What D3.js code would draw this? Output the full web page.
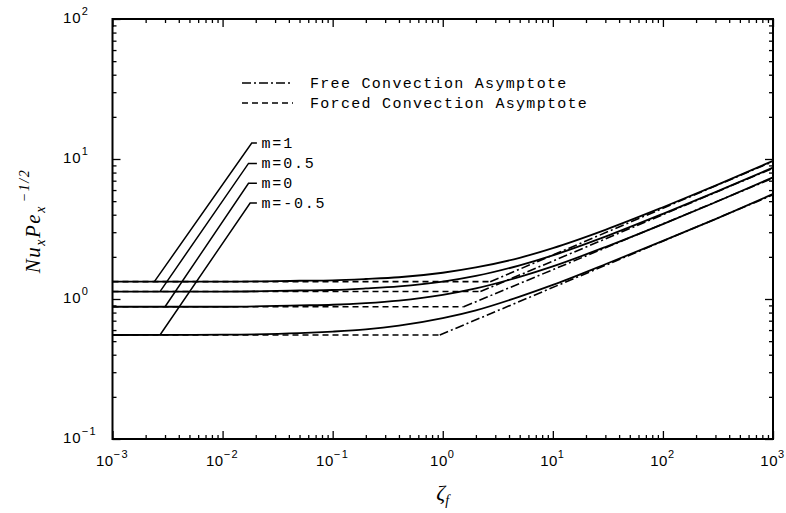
<!DOCTYPE html>
<html>
<head>
<meta charset="utf-8">
<script src="https://cdn.jsdelivr.net/npm/d3@7.9.0/dist/d3.min.js"></script>
<style>
  body { margin: 0; background: #fff; }
  svg { display: block; }
</style>
</head>
<body>
<svg id="chart" width="786" height="513"></svg>
<script>
const zetaGrid = [0.001, 0.01, 0.05, 0.1, 0.2, 0.4, 1, 2, 5, 10, 30, 100, 300, 1000];

// Nu_x Pe_x^-1/2, one array per m
const nuM1   = [1.33, 1.33, 1.35, 1.36, 1.39, 1.43, 1.54, 1.68, 1.97, 2.31, 3.12, 4.52, 6.45, 9.7];
const nuM05  = [1.13, 1.13, 1.15, 1.16, 1.19, 1.23, 1.33, 1.46, 1.74, 2.05, 2.79, 4.06, 5.8, 8.67];
const nuM0   = [0.88, 0.88, 0.90, 0.91, 0.935, 0.975, 1.07, 1.19, 1.44, 1.71, 2.35, 3.43, 4.91, 7.4];
const nuMm05 = [0.553, 0.556, 0.57, 0.585, 0.607, 0.645, 0.73, 0.83, 1.04, 1.26, 1.77, 2.6, 3.72, 5.62];

const mLabels = ["m=1", "m=0.5", "m=0", "m=-0.5"];

// forced asymptote level, where it meets the free one, free asymptote value at zeta=1000
const forcedLevel = [1.33, 1.13, 0.88, 0.553];
const forcedEnd = [2.7, 2.2, 1.55, 0.94];
const freeAt1000 = [9.6, 8.6, 7.3, 5.55];

// label leader lines (zeta, value)
const leaderStartZeta = [0.0024, 0.0027, 0.0030, 0.0027];
const leaderTopZeta = [0.0184, 0.0172, 0.0172, 0.0178];
const leaderTopValue = [13.0, 9.3, 6.7, 4.85];
const leaderTickZeta = 0.0205;
const labelZeta = 0.0226;

const majorX = [1e-3, 1e-2, 1e-1, 1e0, 1e1, 1e2, 1e3];
const majorY = [1e-1, 1e0, 1e1, 1e2];
const xExp = ["-3", "-2", "-1", "0", "1", "2", "3"];
const yExp = ["-1", "0", "1", "2"];

const margin = { left: 112.5, top: 19, right: 13, bottom: 74 };
const width = 786 - margin.left - margin.right;
const height = 513 - margin.top - margin.bottom;

const svg = d3.select("#chart");
const g = svg.append("g").attr("transform", `translate(${margin.left},${margin.top})`);

const x = d3.scaleLog().domain([1e-3, 1e3]).range([0, width]);
const y = d3.scaleLog().domain([1e-1, 1e2]).range([height, 0]);

// minor ticks 2..9 in every decade
const minorOf = dom => {
    const out = [];
    for (let e = Math.log10(dom[0]); e < Math.log10(dom[1]); e++)
        for (let k = 2; k <= 9; k++) out.push(k * Math.pow(10, e));
    return out;
};
const minorX = minorOf(x.domain());
const minorY = minorOf(y.domain());

function addAxis(axisFn, scale, values, size, transform) {
    const a = g.append("g")
        .attr("transform", transform)
        .call(axisFn(scale).tickValues(values).tickSize(-size).tickSizeOuter(0).tickFormat(() => ""));
    a.select(".domain").remove();
    a.selectAll("line").attr("stroke", "#000").attr("stroke-width", 1.3);
}
addAxis(d3.axisBottom, x, majorX, 8, `translate(0,${height})`);
addAxis(d3.axisBottom, x, minorX, 4, `translate(0,${height})`);
addAxis(d3.axisTop, x, majorX, 8, "translate(0,0)");
addAxis(d3.axisTop, x, minorX, 4, "translate(0,0)");
addAxis(d3.axisLeft, y, majorY, 8, "translate(0,0)");
addAxis(d3.axisLeft, y, minorY, 4, "translate(0,0)");
addAxis(d3.axisRight, y, majorY, 8, `translate(${width},0)`);
addAxis(d3.axisRight, y, minorY, 4, `translate(${width},0)`);

// tick labels with superscript exponents
const labelFont = "'Liberation Sans', Arial, sans-serif";
majorX.forEach((v, i) => {
    const t = g.append("text")
        .attr("x", x(v)).attr("y", height + 27)
        .attr("text-anchor", "middle")
        .attr("font-family", labelFont).attr("font-size", 15)
        .attr("letter-spacing", 0.5);
    t.append("tspan").text("10");
    t.append("tspan").attr("dy", -8).attr("font-size", 11).attr("letter-spacing", 1.5)
        .text(xExp[i].replace("-", "\u2212"));
});
majorY.forEach((v, i) => {
    const t = g.append("text")
        .attr("x", 63 - margin.left).attr("y", y(v) + 4)
        .attr("font-family", labelFont).attr("font-size", 15)
        .attr("letter-spacing", 1);
    t.append("tspan").text("10");
    t.append("tspan").attr("dy", -8).attr("font-size", 11).attr("letter-spacing", 1.5)
        .text(yExp[i].replace("-", "\u2212"));
});

// asymptotes
const line = d3.line().x(d => x(d[0])).y(d => y(d[1]));
forcedLevel.forEach((lv, i) => {
    g.append("path")
        .attr("d", line([[1e-3, lv], [forcedEnd[i], lv]]))
        .attr("fill", "none").attr("stroke", "#000").attr("stroke-width", 1.6)
        .attr("stroke-dasharray", "6,4");
    g.append("path")
        .attr("d", line([[forcedEnd[i], lv], [1e3, freeAt1000[i]]]))
        .attr("fill", "none").attr("stroke", "#000").attr("stroke-width", 1.6)
        .attr("stroke-dasharray", "9,3,2,3");
});

// solid curves
const curve = d3.line().x(d => x(d[0])).y(d => y(d[1])).curve(d3.curveMonotoneX);
[nuM1, nuM05, nuM0, nuMm05].forEach(vals => {
    g.append("path")
        .attr("d", curve(zetaGrid.map((z, j) => [z, vals[j]])))
        .attr("fill", "none").attr("stroke", "#000").attr("stroke-width", 1.8);
});

// leader lines and m labels
const monoFont = "'Liberation Mono', 'DejaVu Sans Mono', monospace";
mLabels.forEach((lab, i) => {
    g.append("path")
        .attr("d", line([
            [leaderStartZeta[i], forcedLevel[i]],
            [leaderTopZeta[i], leaderTopValue[i]],
            [leaderTickZeta, leaderTopValue[i]]
        ]))
        .attr("fill", "none").attr("stroke", "#000").attr("stroke-width", 1.5);
    g.append("text")
        .attr("x", x(labelZeta)).attr("y", y(leaderTopValue[i]) + 5)
        .attr("font-family", monoFont).attr("font-size", 15).attr("letter-spacing", 1.8)
        .text(lab);
});

// frame
g.append("rect")
    .attr("width", width).attr("height", height)
    .attr("fill", "none").attr("stroke", "#000").attr("stroke-width", 2);

// legend
const legend = svg.append("g");
[["Free Convection Asymptote", "9,3,2,3", 83], ["Forced Convection Asymptote", "6,4", 103]].forEach(([txt, dash, ly]) => {
    legend.append("line")
        .attr("x1", 242).attr("x2", 293).attr("y1", ly).attr("y2", ly)
        .attr("stroke", "#000").attr("stroke-width", 1.5).attr("stroke-dasharray", dash);
    legend.append("text")
        .attr("x", 310).attr("y", ly + 5)
        .attr("font-family", monoFont).attr("font-size", 15).attr("letter-spacing", 1.3)
        .text(txt);
});

// axis titles
const yTitle = svg.append("text")
    .attr("transform", `translate(40,221) rotate(-90)`)
    .attr("text-anchor", "middle")
    .attr("font-family", "'Liberation Serif', 'DejaVu Serif', serif")
    .attr("font-style", "italic").attr("font-size", 21).attr("letter-spacing", 1.5);
yTitle.append("tspan").text("Nu");
yTitle.append("tspan").attr("dy", 5).attr("font-size", 14).text("x");
yTitle.append("tspan").attr("dy", -5).text("Pe");
yTitle.append("tspan").attr("dy", 5).attr("font-size", 14).text("x");
yTitle.append("tspan").attr("dy", -16).attr("font-size", 14).attr("dx", 3).text("\u22121/2");

const xTitle = svg.append("text")
    .attr("x", margin.left + width / 2).attr("y", 500)
    .attr("text-anchor", "middle")
    .attr("font-family", "'Liberation Serif', 'DejaVu Serif', serif")
    .attr("font-style", "italic").attr("font-size", 22);
xTitle.append("tspan").text("\u03b6");
xTitle.append("tspan").attr("dy", 5).attr("font-size", 14).text("f");
</script>
</body>
</html>
